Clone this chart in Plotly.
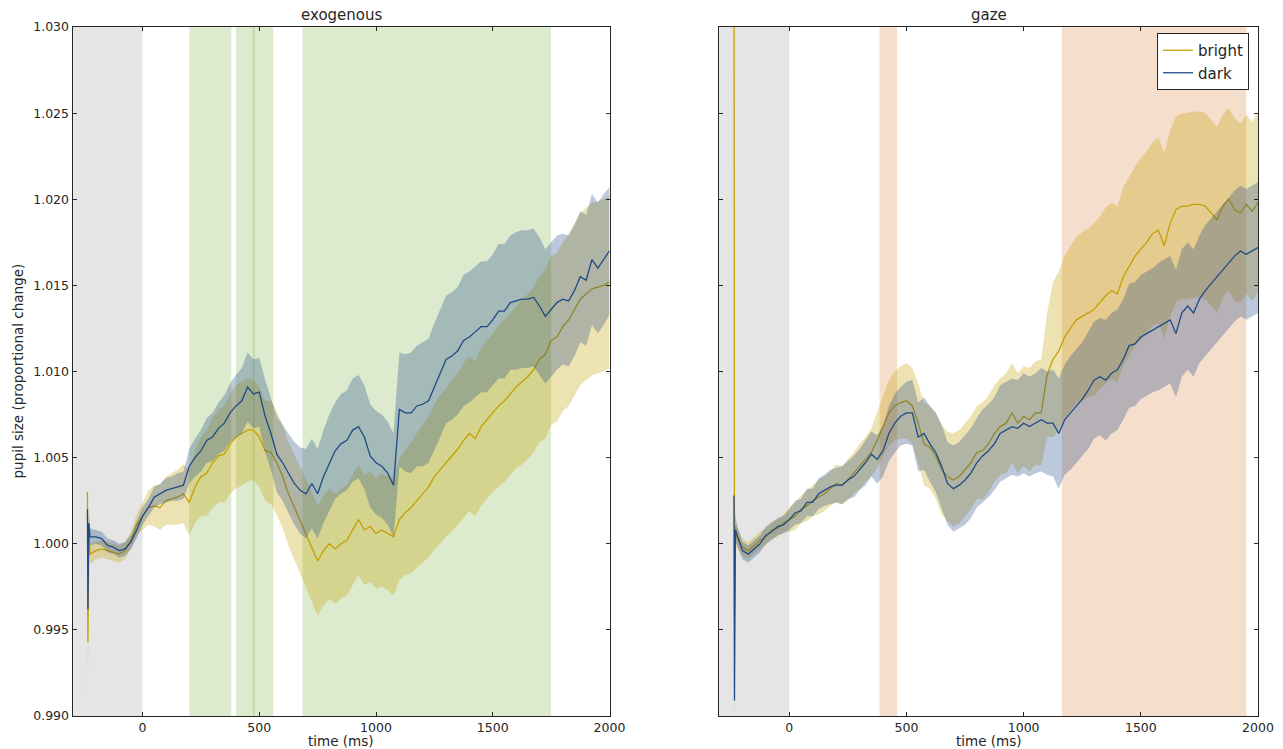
import plotly.graph_objects as go

# Sampling times (ms); the first three samples capture the onset transient
TIME_MS = [-236, -234, -230] + list(range(-225, 2001, 25))

# ---- exogenous panel -------------------------------------------------------
EXO_BRIGHT = [
    1.0030, 0.9943, 1.0010,
    0.9994, 0.9996, 0.9997, 0.9996, 0.9995, 0.9994, 0.9996, 1.0002, 1.0011,
    1.0016, 1.0021, 1.0022, 1.0021, 1.0025, 1.0026, 1.0027, 1.0029,
    1.0024, 1.0033, 1.0039, 1.0041, 1.0047, 1.0051, 1.0052, 1.0058,
    1.0062, 1.0064, 1.0066, 1.0066, 1.0062, 1.0054, 1.0053, 1.0047,
    1.0039, 1.0029, 1.0021, 1.0014, 1.0006, 0.9998, 0.9990, 0.9996,
    1.0000, 0.9997, 1.0000, 1.0002, 1.0008, 1.0014, 1.0008, 1.0010,
    1.0006, 1.0008, 1.0006, 1.0004, 1.0014, 1.0018, 1.0021, 1.0025,
    1.0029, 1.0033, 1.0039, 1.0043, 1.0047, 1.0051, 1.0055, 1.0060,
    1.0064, 1.0061, 1.0068, 1.0072, 1.0076, 1.0080, 1.0083, 1.0087,
    1.0091, 1.0094, 1.0097, 1.0101, 1.0107, 1.0110, 1.0118, 1.0120,
    1.0126, 1.0130, 1.0136, 1.0142, 1.0145, 1.0148, 1.0149, 1.0150,
    1.0152,
]
EXO_BRIGHT_ERR = [
    0.0010, 0.0035, 0.0010,
    0.0006, 0.0005, 0.0005, 0.0005, 0.0005, 0.0005, 0.0005, 0.0005, 0.0006,
    0.0008, 0.0010, 0.0012, 0.0013, 0.0014, 0.0015, 0.0016, 0.0017,
    0.0019, 0.0021, 0.0023, 0.0025, 0.0026, 0.0027, 0.0028, 0.0029,
    0.0030, 0.0030, 0.0030, 0.0029, 0.0029, 0.0029, 0.0030, 0.0030,
    0.0030, 0.0030, 0.0031, 0.0031, 0.0031, 0.0032, 0.0032, 0.0032,
    0.0032, 0.0032, 0.0032, 0.0032, 0.0032, 0.0032, 0.0032, 0.0032,
    0.0032, 0.0033, 0.0033, 0.0034, 0.0035, 0.0036, 0.0038, 0.0039,
    0.0040, 0.0041, 0.0042, 0.0043, 0.0043, 0.0044, 0.0044, 0.0045,
    0.0045, 0.0045, 0.0046, 0.0046, 0.0046, 0.0047, 0.0047, 0.0047,
    0.0047, 0.0048, 0.0048, 0.0048, 0.0048, 0.0049, 0.0049, 0.0049,
    0.0049, 0.0050, 0.0050, 0.0050, 0.0050, 0.0050, 0.0050, 0.0050,
    0.0050,
]
EXO_DARK = [
    1.0020, 0.9962, 1.0012,
    1.0004, 1.0004, 1.0003, 0.9999, 0.9998, 0.9996, 0.9997, 1.0001, 1.0008,
    1.0016, 1.0021, 1.0027, 1.0029, 1.0031, 1.0032, 1.0033, 1.0034,
    1.0045, 1.0050, 1.0054, 1.0060, 1.0062, 1.0067, 1.0070, 1.0076,
    1.0080, 1.0083, 1.0091, 1.0087, 1.0088, 1.0074, 1.0064, 1.0052,
    1.0047, 1.0041, 1.0035, 1.0031, 1.0029, 1.0035, 1.0029, 1.0039,
    1.0047, 1.0054, 1.0058, 1.0060, 1.0066, 1.0068, 1.0062, 1.0051,
    1.0047, 1.0045, 1.0041, 1.0034, 1.0078, 1.0076, 1.0076, 1.0080,
    1.0081, 1.0083, 1.0091, 1.0099, 1.0107, 1.0109, 1.0112, 1.0118,
    1.0120, 1.0123, 1.0126, 1.0126, 1.0130, 1.0135, 1.0135, 1.0140,
    1.0141, 1.0142, 1.0142, 1.0143, 1.0138, 1.0132, 1.0136, 1.0140,
    1.0142, 1.0141, 1.0147, 1.0155, 1.0153, 1.0165, 1.0160, 1.0165,
    1.0170,
]
EXO_DARK_ERR = [
    0.0010, 0.0012, 0.0008,
    0.0005, 0.0004, 0.0004, 0.0004, 0.0004, 0.0004, 0.0004, 0.0004, 0.0005,
    0.0005, 0.0005, 0.0006, 0.0006, 0.0007, 0.0007, 0.0008, 0.0008,
    0.0010, 0.0011, 0.0012, 0.0013, 0.0014, 0.0015, 0.0016, 0.0017,
    0.0018, 0.0019, 0.0020, 0.0020, 0.0020, 0.0021, 0.0021, 0.0022,
    0.0022, 0.0023, 0.0024, 0.0025, 0.0026, 0.0026, 0.0026, 0.0027,
    0.0028, 0.0028, 0.0029, 0.0029, 0.0030, 0.0030, 0.0030, 0.0030,
    0.0030, 0.0030, 0.0030, 0.0030, 0.0033, 0.0034, 0.0035, 0.0035,
    0.0036, 0.0036, 0.0037, 0.0037, 0.0037, 0.0037, 0.0037, 0.0038,
    0.0038, 0.0038, 0.0038, 0.0038, 0.0038, 0.0039, 0.0039, 0.0039,
    0.0040, 0.0040, 0.0040, 0.0040, 0.0040, 0.0039, 0.0039, 0.0039,
    0.0038, 0.0038, 0.0038, 0.0038, 0.0038, 0.0038, 0.0038, 0.0038,
    0.0037,
]

# ---- gaze panel ------------------------------------------------------------
GAZE_BRIGHT = [
    1.0400, 0.9958, 1.0010,
    1.0004, 0.9998, 0.9996, 0.9999, 1.0002, 1.0004, 1.0008, 1.0009, 1.0012,
    1.0014, 1.0016, 1.0020, 1.0022, 1.0025, 1.0027, 1.0029, 1.0032,
    1.0035, 1.0034, 1.0037, 1.0041, 1.0045, 1.0049, 1.0053, 1.0060,
    1.0068, 1.0076, 1.0080, 1.0082, 1.0083, 1.0080, 1.0070, 1.0058,
    1.0056, 1.0051, 1.0043, 1.0039, 1.0037, 1.0039, 1.0043, 1.0047,
    1.0053, 1.0054, 1.0058, 1.0064, 1.0068, 1.0070, 1.0076, 1.0070,
    1.0074, 1.0072, 1.0076, 1.0076, 1.0098, 1.0107, 1.0112, 1.0120,
    1.0125, 1.0130, 1.0132, 1.0134, 1.0136, 1.0140, 1.0144, 1.0147,
    1.0145, 1.0155, 1.0161, 1.0167, 1.0171, 1.0175, 1.0180, 1.0182,
    1.0173, 1.0186, 1.0194, 1.0196, 1.0196, 1.0197, 1.0197, 1.0196,
    1.0192, 1.0188, 1.0196, 1.0200, 1.0194, 1.0192, 1.0197, 1.0193,
    1.0198,
]
GAZE_BRIGHT_ERR = [
    0.0003, 0.0030, 0.0010,
    0.0006, 0.0005, 0.0005, 0.0005, 0.0005, 0.0005, 0.0005, 0.0005, 0.0005,
    0.0007, 0.0008, 0.0008, 0.0009, 0.0009, 0.0010, 0.0010, 0.0010,
    0.0011, 0.0011, 0.0012, 0.0012, 0.0013, 0.0013, 0.0014, 0.0016,
    0.0017, 0.0019, 0.0020, 0.0021, 0.0022, 0.0022, 0.0023, 0.0024,
    0.0024, 0.0025, 0.0026, 0.0026, 0.0027, 0.0027, 0.0027, 0.0027,
    0.0027, 0.0028, 0.0028, 0.0028, 0.0028, 0.0029, 0.0029, 0.0029,
    0.0029, 0.0030, 0.0030, 0.0031, 0.0036, 0.0045, 0.0046, 0.0047,
    0.0048, 0.0048, 0.0049, 0.0049, 0.0050, 0.0050, 0.0051, 0.0051,
    0.0051, 0.0052, 0.0052, 0.0052, 0.0053, 0.0053, 0.0053, 0.0054,
    0.0054, 0.0054, 0.0054, 0.0054, 0.0054, 0.0054, 0.0054, 0.0054,
    0.0054, 0.0054, 0.0053, 0.0053, 0.0053, 0.0052, 0.0052, 0.0052,
    0.0052,
]
GAZE_DARK = [
    1.0028, 0.9909, 1.0008,
    1.0006, 0.9996, 0.9994, 0.9997, 1.0000, 1.0005, 1.0007, 1.0010, 1.0011,
    1.0014, 1.0018, 1.0019, 1.0024, 1.0024, 1.0029, 1.0031, 1.0033,
    1.0034, 1.0034, 1.0037, 1.0039, 1.0043, 1.0047, 1.0052, 1.0049,
    1.0054, 1.0064, 1.0070, 1.0074, 1.0076, 1.0076, 1.0062, 1.0064,
    1.0058, 1.0053, 1.0045, 1.0035, 1.0032, 1.0034, 1.0037, 1.0041,
    1.0047, 1.0051, 1.0054, 1.0058, 1.0064, 1.0066, 1.0068, 1.0067,
    1.0070, 1.0068, 1.0070, 1.0072, 1.0070, 1.0070, 1.0064, 1.0072,
    1.0076, 1.0080, 1.0084, 1.0089, 1.0095, 1.0097, 1.0095, 1.0099,
    1.0101, 1.0107, 1.0115, 1.0116, 1.0120, 1.0122, 1.0124, 1.0126,
    1.0128, 1.0130, 1.0122, 1.0134, 1.0138, 1.0134, 1.0142, 1.0147,
    1.0151, 1.0155, 1.0159, 1.0163, 1.0167, 1.0170, 1.0168, 1.0170,
    1.0172,
]
GAZE_DARK_ERR = [
    0.0005, 0.0012, 0.0008,
    0.0006, 0.0005, 0.0005, 0.0005, 0.0005, 0.0005, 0.0005, 0.0005, 0.0005,
    0.0006, 0.0007, 0.0007, 0.0008, 0.0008, 0.0009, 0.0009, 0.0010,
    0.0010, 0.0011, 0.0011, 0.0012, 0.0012, 0.0013, 0.0013, 0.0014,
    0.0015, 0.0016, 0.0017, 0.0017, 0.0018, 0.0019, 0.0020, 0.0021,
    0.0022, 0.0023, 0.0024, 0.0024, 0.0025, 0.0025, 0.0026, 0.0026,
    0.0026, 0.0027, 0.0027, 0.0027, 0.0028, 0.0028, 0.0028, 0.0028,
    0.0029, 0.0029, 0.0029, 0.0030, 0.0030, 0.0031, 0.0032, 0.0032,
    0.0033, 0.0033, 0.0033, 0.0034, 0.0034, 0.0034, 0.0035, 0.0035,
    0.0035, 0.0035, 0.0036, 0.0036, 0.0036, 0.0036, 0.0036, 0.0037,
    0.0037, 0.0037, 0.0037, 0.0037, 0.0037, 0.0037, 0.0037, 0.0038,
    0.0038, 0.0038, 0.0038, 0.0038, 0.0038, 0.0038, 0.0038, 0.0038,
    0.0038,
]

# Shaded windows (ms): baseline period and windows where conditions differ
BASELINE_SPAN = (-300, 0)
EXO_SPANS = [(200, 380), (400, 480), (472, 560), (685, 1750)]
GAZE_SPANS = [(385, 460), (1163, 1950)]

X_TICKS = [0, 500, 1000, 1500, 2000]
Y_RANGE = (0.990, 1.030)

BRIGHT_LINE, BRIGHT_FILL = "#c4a000", "rgba(196,160,0,0.30)"
DARK_LINE, DARK_FILL = "#204a87", "rgba(32,74,135,0.30)"
FONT = "DejaVu Sans"
INK = "#262626"

for series in (EXO_BRIGHT, EXO_BRIGHT_ERR, EXO_DARK, EXO_DARK_ERR,
               GAZE_BRIGHT, GAZE_BRIGHT_ERR, GAZE_DARK, GAZE_DARK_ERR):
    assert len(series) == len(TIME_MS)

fig = go.Figure()


def add_condition(mean, err, line_color, fill_color, name, xa, ya, legend):
    upper = [m + e for m, e in zip(mean, err)]
    lower = [m - e for m, e in zip(mean, err)]
    fig.add_trace(go.Scatter(
        x=TIME_MS + TIME_MS[::-1], y=upper + lower[::-1],
        fill="toself", fillcolor=fill_color, line=dict(width=0),
        mode="lines", hoverinfo="skip", showlegend=False, xaxis=xa, yaxis=ya))
    fig.add_trace(go.Scatter(
        x=TIME_MS, y=mean, mode="lines", name=name,
        line=dict(color=line_color, width=1.3),
        showlegend=legend, xaxis=xa, yaxis=ya))


add_condition(EXO_BRIGHT, EXO_BRIGHT_ERR, BRIGHT_LINE, BRIGHT_FILL, "bright", "x", "y", False)
add_condition(EXO_DARK, EXO_DARK_ERR, DARK_LINE, DARK_FILL, "dark", "x", "y", False)
add_condition(GAZE_BRIGHT, GAZE_BRIGHT_ERR, BRIGHT_LINE, BRIGHT_FILL, "bright", "x2", "y2", True)
add_condition(GAZE_DARK, GAZE_DARK_ERR, DARK_LINE, DARK_FILL, "dark", "x2", "y2", True)

shapes = []


def span(xref, yref, x0, x1, color):
    shapes.append(dict(type="rect", xref=xref, yref=yref + " domain",
                       x0=x0, x1=x1, y0=0, y1=1, fillcolor=color,
                       line=dict(width=0), layer="below"))


for xr, yr in (("x", "y"), ("x2", "y2")):
    span(xr, yr, BASELINE_SPAN[0], BASELINE_SPAN[1], "rgba(0,0,0,0.10)")
for a, b in EXO_SPANS:
    span("x", "y", a, b, "rgba(78,154,6,0.20)")
for a, b in GAZE_SPANS:
    span("x2", "y2", a, b, "rgba(206,92,0,0.20)")

W, H = 1283, 749
LEFT_PX, RIGHT_PX = (72.5, 609.5), (719, 1258)
TOP_PX, BOTTOM_PX = 27, 716


def dom(px):
    return [px[0] / W, px[1] / W]


y_dom = [1 - BOTTOM_PX / H, 1 - TOP_PX / H]

common_x = dict(range=[-300, 2000], tickvals=X_TICKS, ticks="inside", ticklen=4,
                tickcolor=INK, showline=True, linecolor=INK, linewidth=1,
                mirror="ticks", showgrid=False, zeroline=False,
                tickfont=dict(family=FONT, size=12.5, color=INK))
common_y = dict(range=list(Y_RANGE), tick0=0.990, dtick=0.005, tickformat=".3f",
                ticks="inside", ticklen=4, tickcolor=INK, showline=True,
                linecolor=INK, linewidth=1, mirror="ticks", showgrid=False,
                zeroline=False, tickfont=dict(family=FONT, size=12.5, color=INK))

fig.update_layout(
    width=W, height=H,
    margin=dict(l=0, r=0, t=0, b=0, pad=0, autoexpand=False),
    paper_bgcolor="white", plot_bgcolor="white",
    font=dict(family=FONT, color=INK),
    xaxis=dict(domain=dom(LEFT_PX), anchor="y", **common_x),
    yaxis=dict(domain=y_dom, anchor="x", **common_y),
    xaxis2=dict(domain=dom(RIGHT_PX), anchor="y2", **common_x),
    yaxis2=dict(domain=y_dom, anchor="x2", showticklabels=False, **common_y),
    shapes=shapes,
    showlegend=True,
    legend=dict(x=1249 / W, xanchor="right", y=1 - 33 / H, yanchor="top",
                bgcolor="white", bordercolor=INK, borderwidth=1,
                font=dict(family=FONT, size=15, color=INK),
                itemwidth=30, tracegroupgap=0),
)

annotations = []
for px, title in ((LEFT_PX, "exogenous"), (RIGHT_PX, "gaze")):
    cx = (px[0] + px[1]) / 2 / W
    annotations.append(dict(text=title, x=cx, y=1 - 15 / H, xref="paper", yref="paper",
                            xanchor="center", yanchor="middle", showarrow=False,
                            font=dict(family=FONT, size=15, color=INK)))
    annotations.append(dict(text="time (ms)", x=cx, y=1 - 741 / H, xref="paper", yref="paper",
                            xanchor="center", yanchor="middle", showarrow=False,
                            font=dict(family=FONT, size=13.5, color=INK)))
annotations.append(dict(text="pupil size (proportional change)", x=18 / W,
                        y=1 - (TOP_PX + BOTTOM_PX) / 2 / H, xref="paper", yref="paper",
                        xanchor="center", yanchor="middle", textangle=-90, showarrow=False,
                        font=dict(family=FONT, size=13.5, color=INK)))
fig.update_layout(annotations=annotations)

fig.write_html("out.html")
